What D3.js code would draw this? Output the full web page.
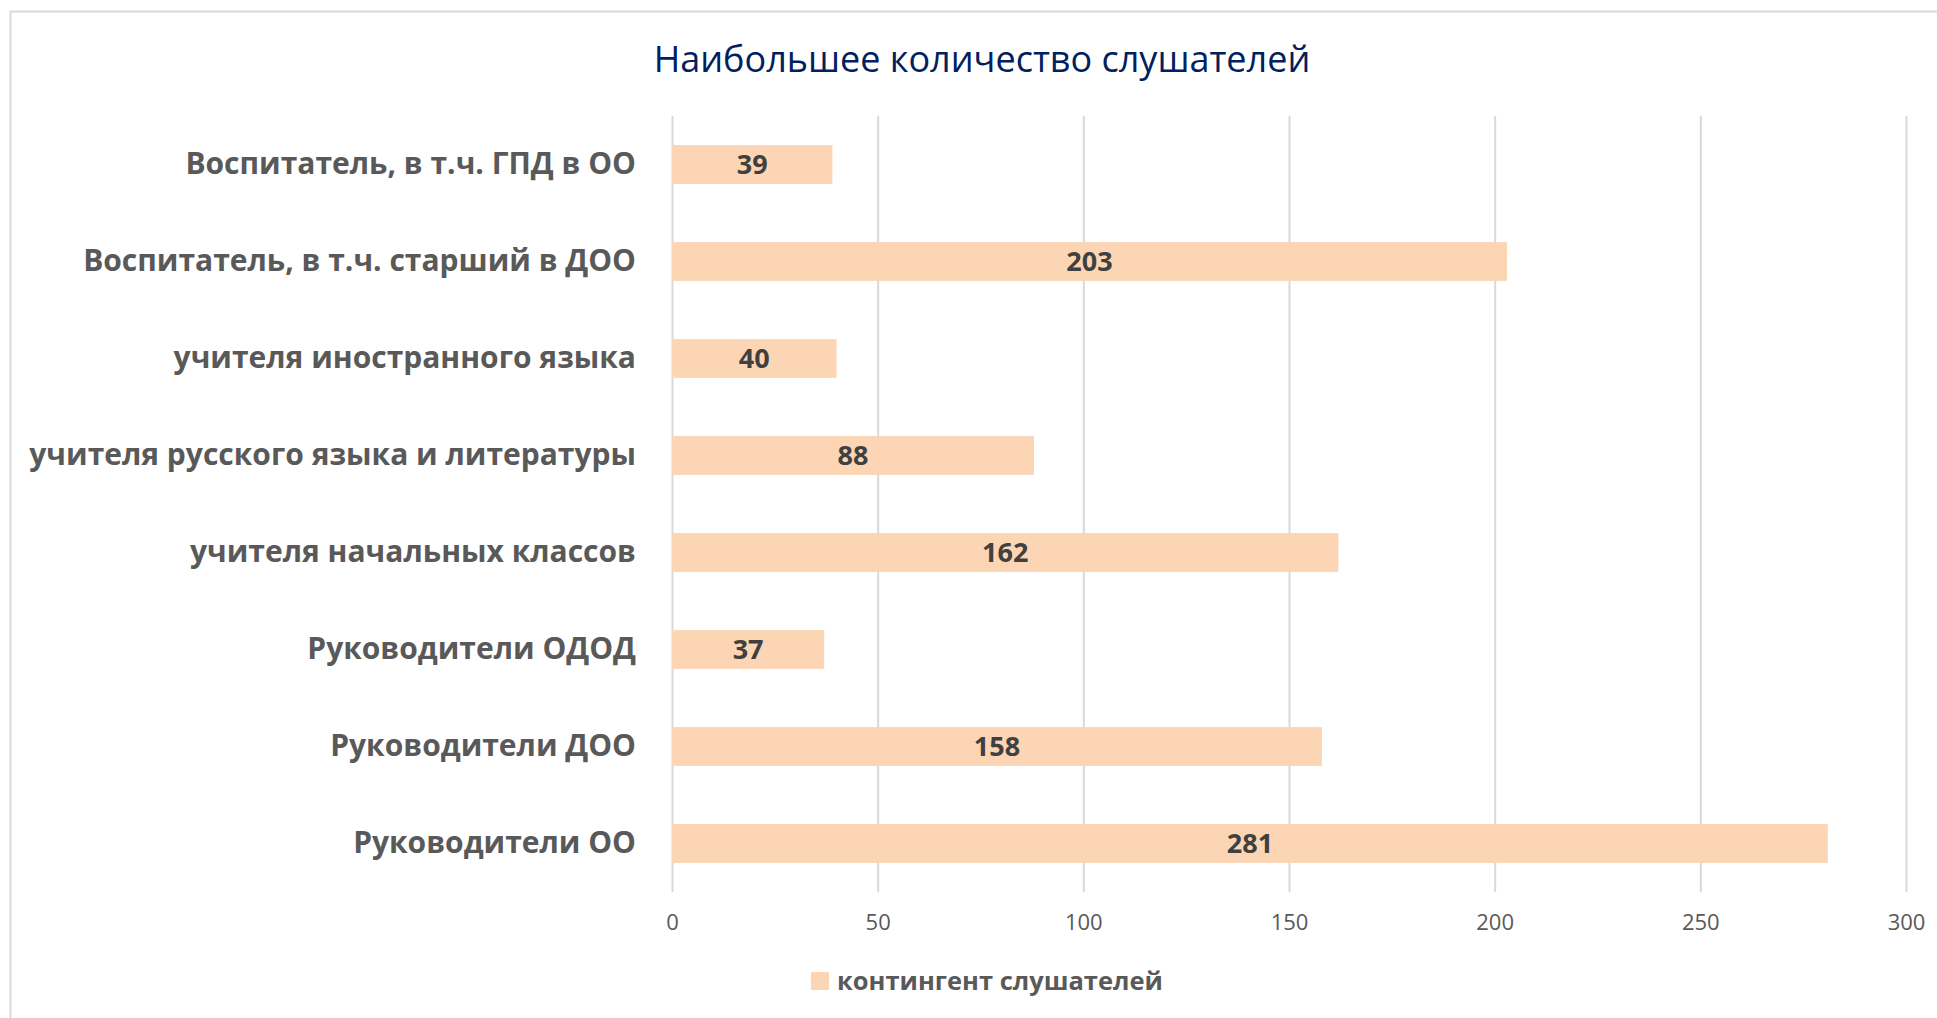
<!DOCTYPE html>
<meta charset="utf-8">
<style>
body { margin: 0; background: #fff; }
.grid line { stroke: #d9d9d9; stroke-width: 2px; }
.grid path { display: none; }
.x.axis path, .x.axis line { display: none; }
.x.axis text { font: 22px "Open Sans", sans-serif; fill: #595959; }
.y.axis path, .y.axis line { display: none; }
.y.axis text { font: bold 30px "Open Sans", sans-serif; fill: #595959; }
.bar { fill: #fcd5b5; }
.label { font: bold 27px "Open Sans", sans-serif; fill: #404040; }
</style>
<body>
<script src="https://cdn.jsdelivr.net/npm/d3@7"></script>
<script>
// chart data
var categories = [
  "Воспитатель, в т.ч. ГПД в ОО",
  "Воспитатель, в т.ч. старший в ДОО",
  "учителя иностранного языка",
  "учителя русского языка и литературы",
  "учителя начальных классов",
  "Руководители ОДОД",
  "Руководители ДОО",
  "Руководители ОО"
];
var values = [39, 203, 40, 88, 162, 37, 158, 281];
var xTicks = [0, 50, 100, 150, 200, 250, 300];
var title = "Наибольшее количество слушателей";
var seriesName = "контингент слушателей";

var W = 1937, H = 1018;
var margin = {top: 116, left: 672, right: 31, bottom: 126};
var width = W - margin.left - margin.right,
    height = H - margin.top - margin.bottom;

var svg = d3.select("body").append("svg")
    .attr("width", W)
    .attr("height", H);

// outer frame
svg.append("rect")
    .attr("x", 10.5).attr("y", 11.5)
    .attr("width", 2000).attr("height", 1100)
    .attr("fill", "none")
    .attr("stroke", "#d9d9d9")
    .attr("stroke-width", 2);

svg.append("text")
    .attr("x", 982).attr("y", 72)
    .attr("text-anchor", "middle")
    .style("font", "36px 'Open Sans', sans-serif")
    .style("fill", "#002060")
    .text(title);

var x = d3.scaleLinear().domain([0, 300]).range([0, width]);
var y = d3.scaleBand().domain(categories).range([0, height])
    .paddingInner(0.6).paddingOuter(0.3);

var g = svg.append("g")
    .attr("transform", "translate(" + margin.left + "," + margin.top + ")");

// vertical gridlines
g.append("g")
    .attr("class", "grid")
    .attr("transform", "translate(0," + height + ")")
    .call(d3.axisBottom(x).tickValues(xTicks).tickSize(-height).tickFormat(""));

g.selectAll(".bar")
    .data(values)
  .enter().append("rect")
    .attr("class", "bar")
    .attr("x", x(0))
    .attr("y", function(d, i) { return y(categories[i]); })
    .attr("width", function(d) { return x(d) - x(0); })
    .attr("height", y.bandwidth());

g.selectAll(".label")
    .data(values)
  .enter().append("text")
    .attr("class", "label")
    .attr("x", function(d) { return x(d / 2); })
    .attr("y", function(d, i) { return y(categories[i]) + y.bandwidth() / 2; })
    .attr("dy", "0.36em")
    .attr("text-anchor", "middle")
    .text(function(d) { return d; });

g.append("g")
    .attr("class", "x axis")
    .attr("transform", "translate(0," + height + ")")
    .call(d3.axisBottom(x).tickValues(xTicks).tickSize(0).tickPadding(22));

g.append("g")
    .attr("class", "y axis")
    .call(d3.axisLeft(y).tickSize(0).tickPadding(36));

// legend
var legend = svg.append("g").attr("transform", "translate(811,972)");
legend.append("rect")
    .attr("width", 18).attr("height", 18)
    .attr("class", "bar");
legend.append("text")
    .attr("x", 26).attr("y", 9).attr("dy", "0.36em")
    .style("font", "bold 25.5px 'Open Sans', sans-serif")
    .style("fill", "#595959")
    .text(seriesName);
</script>
</body>
